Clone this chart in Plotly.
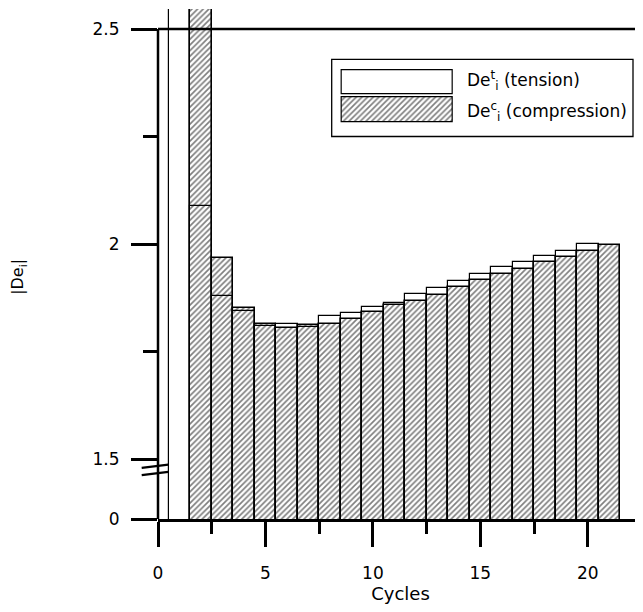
import plotly.graph_objects as go

# ---------------- data ----------------
cycles = list(range(1, 22))
# |De_i| tension (first value is off scale, clipped at the top)
tension = [3.0, 2.088, 1.879, 1.844, 1.809, 1.814, 1.8085, 1.832, 1.839, 1.855,
           1.864, 1.884, 1.899, 1.914, 1.931, 1.946, 1.959, 1.973, 1.985, 2.001, None]
# |De_i| compression (second value is off scale, clipped at the top)
compression = [None, 2.9, 1.967, 1.8516, 1.8147, 1.806, 1.8125, 1.8156, 1.827, 1.842,
               1.858, 1.869, 1.883, 1.901, 1.917, 1.931, 1.943, 1.959, 1.970, 1.985, 1.997]

x_major = [0, 5, 10, 15, 20]
x_minor = [2.5, 7.5, 12.5, 17.5, 22.5]
y_major_vals = [1.5, 2.0, 2.5]
y_major_text = ["1.5", "2", "2.5"]
y_minor = [1.75, 2.25]
zero_label = "0"

legend_labels = ["De<sup>t</sup><sub>i</sub> (tension)",
                 "De<sup>c</sup><sub>i</sub> (compression)"]

# ---------------- layout geometry ----------------
# the page body has an 8px margin, so the figure starts at (8, 8) in the window
OFF = 8
W, H = 643 - OFF, 612 - 2 * OFF
L, R, T = 158 - OFF, 0, 9 - OFF
B = H - (525 - OFF)
PW, PH = W - L - R, H - T - B
Y_ZERO = 1.3612          # where the broken axis shows "0"
Y_TOP = 2.5467
X_MAX = 22.57

def px_x(px):
    """window pixel x -> paper x"""
    return (px - OFF - L) / PW

def px_y(py):
    """window pixel y -> paper y"""
    return (H - B - (py - OFF)) / PH

def val_y(v):
    return (v - Y_ZERO) / (Y_TOP - Y_ZERO)

FONT = "DejaVu Sans"
hatch = dict(shape="/", size=4.0, solidity=0.42, fgcolor="black", bgcolor="white")

fig = go.Figure()

fig.add_trace(go.Bar(
    x=cycles, y=compression, width=1.0, name="compression",
    marker=dict(color="white", pattern=hatch, line=dict(color="black", width=1.6)),
    showlegend=False,
))
fig.add_trace(go.Bar(
    x=cycles, y=tension, width=1.0, name="tension",
    marker=dict(color="rgba(0,0,0,0)", line=dict(color="black", width=1.2)),
    showlegend=False,
))

# legend swatches (drawn as bars on a small helper axis so the hatch matches)
fig.add_trace(go.Bar(
    x=[1], y=[1], orientation="h", width=0.875, base=0,
    marker=dict(color="white", line=dict(color="black", width=1.2)),
    xaxis="x2", yaxis="y2", showlegend=False, hoverinfo="skip",
))
fig.add_trace(go.Bar(
    x=[1], y=[0], orientation="h", width=0.875, base=0,
    marker=dict(color="white", pattern=hatch, line=dict(color="black", width=1.2)),
    xaxis="x2", yaxis="y2", showlegend=False, hoverinfo="skip",
))

shapes = [
    # y axis line from 0 to 2.5
    dict(type="line", xref="paper", yref="paper", x0=0, x1=0, y0=0, y1=val_y(2.5),
         line=dict(color="black", width=2.5)),
    # horizontal line at 2.5
    dict(type="line", xref="paper", yref="paper", x0=0, x1=1, y0=val_y(2.5), y1=val_y(2.5),
         line=dict(color="black", width=2.5)),
    # axis break marks
    dict(type="line", xref="paper", yref="paper", x0=px_x(141.7), x1=px_x(168.3),
         y0=px_y(473.3), y1=px_y(470.0), line=dict(color="black", width=2.2)),
    dict(type="line", xref="paper", yref="paper", x0=px_x(141.7), x1=px_x(168.3),
         y0=px_y(480.7), y1=px_y(477.3), line=dict(color="black", width=2.2)),
    # legend box
    dict(type="rect", xref="paper", yref="paper", x0=px_x(331.7), x1=px_x(633),
         y0=px_y(138), y1=px_y(60), line=dict(color="black", width=1.3),
         fillcolor="rgba(0,0,0,0)", layer="below"),
]

annotations = [
    dict(text="|De<sub>i</sub>|", xref="paper", yref="paper", x=px_x(19), y=px_y(280),
         textangle=-90, showarrow=False, font=dict(family=FONT, size=16, color="black"),
         xanchor="center", yanchor="middle"),
    dict(text=legend_labels[0], xref="paper", yref="paper", x=px_x(465), y=px_y(81.5),
         showarrow=False, xanchor="left", yanchor="middle",
         font=dict(family=FONT, size=17, color="black")),
    dict(text=legend_labels[1], xref="paper", yref="paper", x=px_x(465), y=px_y(113),
         showarrow=False, xanchor="left", yanchor="middle",
         font=dict(family=FONT, size=17, color="black")),
]

sw_x0, sw_x1 = 342, 453
pad = 0.02 * (sw_x1 - sw_x0)

fig.update_layout(
    width=W, height=H,
    margin=dict(l=L, r=R, t=T, b=B),
    paper_bgcolor="white", plot_bgcolor="white",
    barmode="overlay", bargap=0,
    font=dict(family=FONT, size=17, color="black"),
    showlegend=False,
    xaxis=dict(
        range=[0, X_MAX], showgrid=False, zeroline=False,
        showline=True, linecolor="black", linewidth=2.5,
        tickmode="array", tickvals=x_major, ticktext=[str(v) for v in x_major],
        ticks="outside", ticklen=25, tickwidth=2.5, tickcolor="black",
        ticklabelstandoff=12,
        minor=dict(tickmode="array", tickvals=x_minor, ticks="outside",
                   ticklen=12, tickwidth=2.5, tickcolor="black", showgrid=False),
        title=dict(text="Cycles", font=dict(family=FONT, size=18), standoff=8),
        tickfont=dict(family=FONT, size=17),
    ),
    yaxis=dict(
        range=[Y_ZERO, Y_TOP], showgrid=False, zeroline=False, showline=False,
        tickmode="array", tickvals=[Y_ZERO] + y_major_vals,
        ticktext=[zero_label] + y_major_text,
        ticks="outside", ticklen=26, tickwidth=2.5, tickcolor="black",
        ticklabelstandoff=8,
        minor=dict(tickmode="array", tickvals=y_minor, ticks="outside",
                   ticklen=14, tickwidth=2.5, tickcolor="black", showgrid=False),
        tickfont=dict(family=FONT, size=17),
    ),
    xaxis2=dict(domain=[px_x(sw_x0 - pad), px_x(sw_x1 + pad)], range=[-0.02, 1.02],
                anchor="y2", visible=False, fixedrange=True),
    yaxis2=dict(domain=[px_y(125), px_y(69)], range=[-0.5, 1.5],
                anchor="x2", visible=False, fixedrange=True),
    shapes=shapes,
    annotations=annotations,
)

fig.write_html("out.html")
